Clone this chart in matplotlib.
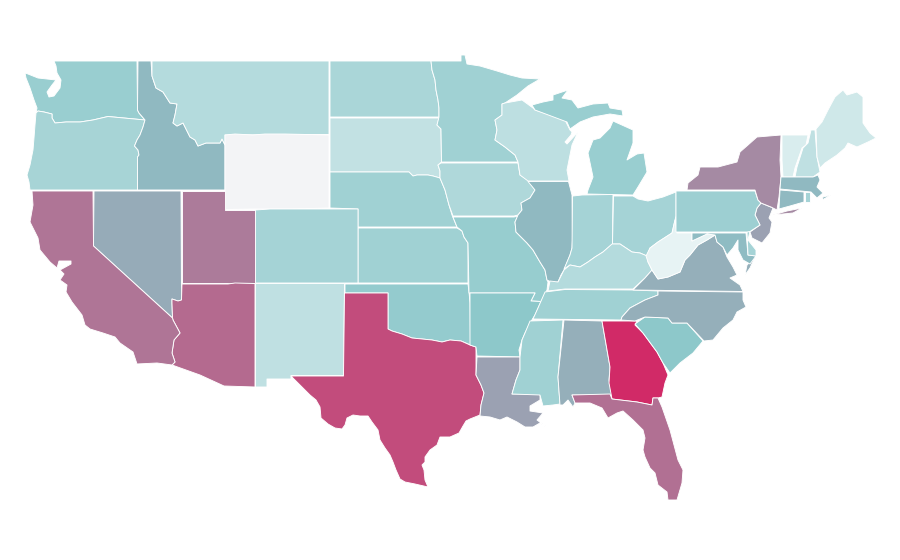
"""Choropleth of the lower 48, outlines traced by hand from the reference frame."""
import matplotlib

matplotlib.use("Agg")
import matplotlib.pyplot as plt  # noqa: E402
from matplotlib.collections import PolyCollection  # noqa: E402
from matplotlib.colors import LinearSegmentedColormap, Normalize  # noqa: E402

STATE_CODES = ["WA", "OR", "ID", "MT", "WY", "ND", "SD", "NE", "KS", "CO", "NM", "OK", "TX", "MN", "IA", "MO",
               "AR", "LA", "WI", "IL", "IN", "OH", "MI", "KY", "TN", "MS", "AL", "GA", "SC", "NC", "VA", "WV",
               "MD", "DE", "NJ", "PA", "NY", "VT", "NH", "ME", "MA", "CT", "RI", "NV", "UT", "AZ", "CA", "FL"]
STATE_VALUES = [34, 29, 45, 24, 0, 28, 19, 32, 32, 30, 20, 36, 87, 32, 26, 35,
                39, 54, 21, 45, 30, 30, 34, 24, 32, 32, 49, 100, 39, 49, 49, 5,
                44, 30, 54, 33, 63, 10, 20, 14, 45, 45, 30, 50, 69, 75, 71, 73]

# outlines in reference pixels, one list per part of a state
OUTLINES = {
    "WA": [[(54, 61), (137, 61), (137.5, 110), (139, 113), (145, 120), (108, 116.5), (93, 120), (80, 122), (66, 122),
            (55, 123), (52, 118), (52, 114), (44, 112), (38, 111), (36, 113), (37, 108), (34, 100), (33, 97), (30, 88),
            (26, 78), (25, 73), (28, 74), (38, 78), (56, 80), (52, 85), (47, 92), (49, 97), (54, 96), (60, 88),
            (61, 80), (57, 73), (56, 66)]],
    "OR": [[(36, 113), (38, 111), (44, 112), (52, 114), (52, 118), (55, 123), (66, 122), (80, 122), (93, 120),
            (108, 116.5), (145, 120), (143, 127), (140, 135), (137, 140), (134.5, 146), (138, 150), (139, 155),
            (137.5, 157), (137.5, 190), (30, 190), (29, 182), (27, 175), (30, 165), (33, 150), (34, 138), (35, 125)]],
    "ID": [[(138, 61), (151, 61), (152, 76), (156, 88), (163, 92), (170, 103), (177, 104), (175, 115), (173, 123),
            (177, 126), (183, 123), (186, 129), (190, 137), (195, 140), (198, 146), (206, 143), (220, 143), (222, 139),
            (225, 145), (225, 190), (137.5, 190), (137.5, 157), (139, 155), (138, 150), (134.5, 146), (137, 140),
            (140, 135), (143, 127), (145, 120), (139, 113), (137.5, 110)]],
    "MT": [[(152, 61), (329, 61), (329, 134.5), (225, 135), (225, 145), (222, 139), (220, 143), (206, 143), (198, 146),
            (195, 140), (190, 137), (186, 129), (183, 123), (177, 126), (173, 123), (175, 115), (177, 104), (170, 103),
            (163, 92), (156, 88), (152, 76)]],
    "WY": [[(225, 135), (235, 134), (253, 135), (265, 134), (285, 134), (329, 135), (329, 208), (290, 209), (255, 209),
            (225, 209.5)]],
    "ND": [[(330, 61), (431, 61), (432, 70), (435, 80), (436, 90), (438, 100), (439, 108), (439, 117), (330, 117)]],
    "SD": [[(330, 118), (439, 118), (437, 125), (441, 129), (441.5, 162), (438, 165), (440, 171), (440, 178), (433, 176),
            (428, 175), (417, 175), (413, 176), (409, 172), (330, 172)]],
    "NE": [[(330, 172), (409, 172), (413, 176), (417, 175), (428, 175), (433, 176), (440, 178), (445, 190), (449, 205),
            (452, 215), (457, 227), (358, 227), (358, 209), (330, 208)]],
    "KS": [[(358, 228), (457, 228), (462, 231), (464, 237), (468, 243), (468, 283), (358, 283)]],
    "CO": [[(255.5, 210), (270, 209), (330, 209), (358, 209), (358, 283), (255.5, 283)]],
    "NM": [[(255.5, 283.5), (344.5, 283.5), (343.5, 375.5), (291, 375.5), (291, 379), (267, 379), (267, 387),
            (255.5, 387)]],
    "OK": [[(345, 284), (468, 284), (469, 292), (470, 303), (470.5, 345), (461, 341), (450, 340), (442, 342), (432, 340),
            (422, 339), (412, 338), (402, 334), (392, 331), (388, 329), (388, 293), (345, 293)]],
    "TX": [[(345, 293), (388, 293), (388, 329), (392, 331), (402, 334), (412, 338), (422, 339), (432, 340), (442, 342),
            (450, 340), (461, 341), (470, 345), (476, 347), (476, 375), (481, 385), (484, 393), (481, 405), (480, 415),
            (470, 419), (466, 421), (463, 426), (459, 433), (450, 437), (440, 437), (437, 445), (430, 450), (425, 457),
            (425, 462), (422, 465), (424, 470), (425, 480), (428, 487), (415, 484), (405, 482), (400, 479), (396, 470),
            (393, 462), (390, 455), (385, 448), (380, 440), (378, 430), (372, 422), (368, 416), (360, 416), (353, 415),
            (347, 418), (345, 425), (342, 429), (335, 428), (328, 424), (321, 418), (320, 407), (316, 400), (310, 395),
            (303, 388), (295, 380), (291, 376), (343.5, 376), (344.5, 293)]],
    "MN": [[(431, 61), (461, 61), (461, 55), (465, 55), (467, 64), (480, 66), (497, 71), (510, 75), (522, 78), (540, 79),
            (528, 86), (517, 95), (505, 103), (502, 104), (502, 115), (495, 120), (497, 130), (495, 140), (505, 147),
            (515, 155), (518, 162), (441.5, 162), (441, 129), (437, 125), (439, 117), (439, 108), (438, 100), (436, 90),
            (435, 80), (432, 70)]],
    "IA": [[(441, 163), (518, 163), (520, 175), (528, 180), (535, 190), (530, 198), (521, 203), (522, 210), (518, 215),
            (514, 216), (453, 216), (449, 205), (445, 190), (440, 178), (440, 171), (438, 165)]],
    "MO": [[(453, 217), (514, 217), (518, 216), (515, 222), (516, 232), (527, 243), (533, 250), (540, 262), (545, 270),
            (547, 280), (548, 282), (547, 290), (541, 301.5), (531, 301), (535, 293), (469, 293), (468, 243), (464, 237),
            (462, 231), (457, 227)]],
    "AR": [[(470, 293), (535, 293), (531, 301), (541, 301.5), (535, 315), (530, 323), (525, 333), (522, 340), (519, 350),
            (520, 357), (477, 356), (476, 347), (470, 345), (470, 303)]],
    "LA": [[(477, 357), (520, 357), (520, 370), (516, 380), (512, 394), (540, 394), (540, 400), (530, 406), (530, 411),
            (543, 413), (537, 420), (548, 428), (540, 423), (533, 427), (525, 427), (517, 422), (507, 417), (500, 420),
            (490, 417), (480, 416), (481, 405), (484, 393), (481, 385), (476, 375)]],
    "WI": [[(505, 103), (522, 100), (533, 108), (535, 110), (565, 120), (570, 130), (572, 132), (571, 135), (565, 142),
            (567, 144), (578, 132), (572, 145), (569, 160), (567, 170), (569, 181), (528, 181), (520, 175), (518, 162),
            (515, 155), (505, 147), (495, 140), (497, 130), (495, 120), (502, 115), (502, 104)]],
    "IL": [[(528, 181.5), (568.5, 181.5), (572, 195), (572.5, 240), (572, 248), (570, 255), (564, 270), (561, 275),
            (558, 282), (553, 283), (547, 280), (545, 270), (540, 262), (533, 250), (527, 243), (516, 232), (515, 222),
            (518, 215), (522, 210), (521, 203), (530, 198), (535, 190)]],
    "IN": [[(573, 196), (582, 195), (613, 194.5), (612.5, 244), (603, 252), (595, 257), (588, 262), (580, 267), (570, 265),
            (564, 269), (570, 255), (572, 248), (572.5, 196)]],
    "OH": [[(613.5, 196), (633, 196), (638, 199), (648, 201), (663, 197), (676, 192), (676, 216), (675, 220), (672, 233),
            (658, 242), (650, 248), (647, 256), (640, 253), (632, 252), (620, 244), (612.5, 244)]],
    "MI": [[(587, 194), (633, 195), (638, 187), (647, 172), (644, 153), (637, 154), (627, 160), (633, 143), (633, 130),
            (613, 121), (610, 128), (600, 138), (593, 140), (588, 153), (593, 177), (588, 190)],
           [(532, 105), (543, 102), (553, 100), (553, 95), (568, 90), (562, 98), (572, 100), (578, 108), (593, 104),
            (608, 103), (610, 108), (622, 110), (623, 116), (610, 114), (593, 117), (580, 122), (570, 129), (567, 122),
            (535, 110)]],
    "KY": [[(548, 291), (550, 281), (558, 282), (564, 270), (570, 265), (580, 267), (588, 262), (595, 257), (603, 252),
            (612, 244), (620, 244), (632, 252), (640, 253), (647, 256), (648, 262), (652, 270), (645, 278), (633, 289),
            (565, 289)]],
    "TN": [[(545, 292), (565, 289.5), (633, 290), (658, 291), (658, 295), (645, 300), (630, 308), (622, 317), (621, 320),
            (533, 319), (538, 308)]],
    "MS": [[(530, 321), (563, 320), (558, 377), (560, 404), (553, 405), (543, 406), (540, 395), (512, 394), (516, 380),
            (520, 370), (520, 357), (522, 340), (525, 333)]],
    "AL": [[(564, 320), (602, 321), (610, 367), (609, 380), (612, 395), (572, 395), (575, 403), (573, 407), (568, 400),
            (563, 405), (560, 405), (558, 377)]],
    "GA": [[(602, 321), (637, 321), (635, 325), (643, 333), (657, 352), (663, 363), (668, 375), (665, 383), (662, 397),
            (658, 398), (653, 398), (652, 405), (637, 402), (612, 399), (609, 383), (610, 367)]],
    "SC": [[(635, 324), (645, 317), (668, 318), (672, 323), (687, 323), (703, 341), (693, 353), (680, 363), (670, 373),
            (663, 363), (657, 352), (643, 333)]],
    "NC": [[(658, 291), (743, 292), (743, 300), (746, 307), (737, 312), (733, 320), (723, 328), (713, 340), (704, 341),
            (687, 323), (672, 323), (668, 318), (645, 317), (635, 321), (621, 320), (622, 317), (630, 308), (645, 300),
            (658, 295)]],
    "VA": [[(633, 290), (645, 278), (652, 270), (658, 279), (668, 277), (680, 272), (685, 260), (690, 255), (698, 245),
            (707, 240), (715, 235), (717, 242), (723, 247), (727, 257), (733, 267), (737, 275), (730, 278), (740, 285),
            (743, 291.5)],
           [(755, 257), (747, 265), (745, 275), (750, 268)]],
    "WV": [[(646, 256), (650, 248), (658, 242), (672, 233), (675, 220), (677, 233), (692, 233), (692, 241), (707, 234),
            (715, 235), (707, 240), (698, 245), (690, 255), (685, 260), (680, 272), (668, 277), (658, 279), (652, 270),
            (648, 262)]],
    "MD": [[(692, 233), (746, 233), (748, 255), (756, 256), (750, 264), (743, 260), (738, 250), (738, 240), (733, 248),
            (727, 255), (723, 247), (717, 242), (715, 235), (707, 234), (692, 241)]],
    "DE": [[(747, 232), (750, 231), (748, 240), (756, 250), (756, 256), (748, 255)]],
    "NJ": [[(761, 203), (773, 208), (769, 218), (772, 222), (770, 233), (762, 243), (752, 238), (750, 232), (760, 225),
            (755, 215), (757, 208)]],
    "PA": [[(676, 191), (755, 191), (758, 200), (761, 203), (757, 208), (755, 215), (760, 225), (750, 231.5), (747, 232),
            (676, 232)]],
    "NY": [[(687, 190), (688, 183), (698, 175), (700, 167), (718, 167), (737, 162), (740, 152), (748, 145), (757, 137),
            (781, 135), (780, 160), (781, 177), (779, 197), (777, 210), (771, 207), (761, 203), (758, 200), (755, 190)],
           [(773, 215), (787, 211), (802, 208), (793, 213)]],
    "VT": [[(782, 135), (808, 135), (806, 145), (802, 148), (795, 168), (793, 177), (783, 177), (782, 160)]],
    "NH": [[(811, 130), (815, 130), (817, 157), (820, 172), (813, 177), (795, 177), (797, 167), (803, 148), (808, 143)]],
    "ME": [[(816, 129), (822, 122), (828, 110), (835, 97), (843, 90), (847, 95), (857, 92), (863, 97), (863, 123),
            (870, 133), (876, 138), (868, 142), (857, 147), (848, 143), (845, 148), (837, 155), (825, 163), (820, 168),
            (817, 157)]],
    "MA": [[(781, 177), (813, 177), (818, 175), (820, 180), (817, 187), (823, 193), (817, 198), (811, 192), (780, 189)],
           [(823, 197), (831, 195), (822, 200)]],
    "CT": [[(780, 190), (804, 192), (804, 202), (790, 206), (779, 209)]],
    "RI": [[(805, 192), (810, 192), (810, 202), (805, 202)]],
    "NV": [[(94, 191), (181, 191), (181.5, 300), (178, 301), (172, 299), (172, 303), (172.5, 318), (93.5, 246)]],
    "UT": [[(182, 191), (225, 191), (225, 210), (255, 210), (255, 283), (182, 283)]],
    "AZ": [[(182, 284), (228, 284), (235, 283), (255, 283.5), (255, 387), (224, 386), (200, 375), (172, 365), (175, 362),
            (172, 353), (174, 340), (180, 333), (173, 320), (172.5, 318), (172, 303), (172, 299), (178, 301),
            (181.5, 300)]],
    "CA": [[(32, 191), (93, 191), (93.5, 246), (172.5, 318), (173, 320), (180, 333), (174, 340), (172, 353), (175, 362),
            (172, 365), (157, 363), (137, 364), (133, 352), (120, 343), (115, 337), (103, 333), (90, 329), (85, 325),
            (82, 315), (72, 302), (66, 292), (67, 285), (60, 280), (64, 274), (60, 270), (71, 264), (71, 261), (59, 261),
            (57, 268), (50, 262), (40, 250), (38, 238), (30, 222), (33, 205)]],
    "FL": [[(572, 395), (610, 394), (612, 399), (637, 402), (652, 405), (653, 398), (658, 398), (662, 407), (670, 430),
            (678, 460), (683, 470), (682, 483), (677, 500), (668, 500), (667, 492), (658, 485), (655, 473), (650, 468),
            (645, 457), (643, 450), (645, 438), (643, 430), (633, 420), (623, 411), (617, 413), (608, 418), (602, 408),
            (590, 403), (577, 403), (575, 403)]],
}

cmap = LinearSegmentedColormap.from_list(
    "map", [(0, "#f3f4f6"), (0.05, "#e6f3f4"), (0.4, "#8ac6c9"), (1, "#d12a67")])

polys, vals = [], []
for code, val in zip(STATE_CODES, STATE_VALUES):
    for part in OUTLINES[code]:
        polys.append(part)
        vals.append(val)

fig = plt.figure(figsize=(9, 5.6), dpi=100)
ax = fig.add_axes([0, 0, 1, 1])
pc = PolyCollection(polys, array=vals, cmap=cmap, norm=Normalize(0, 100),
                    edgecolors="white", linewidths=0.65)
ax.add_collection(pc)
ax.set_xlim(0, 900)
ax.set_ylim(560, 0)
ax.axis("off")

fig.savefig("out.png", dpi=100, facecolor="white")
